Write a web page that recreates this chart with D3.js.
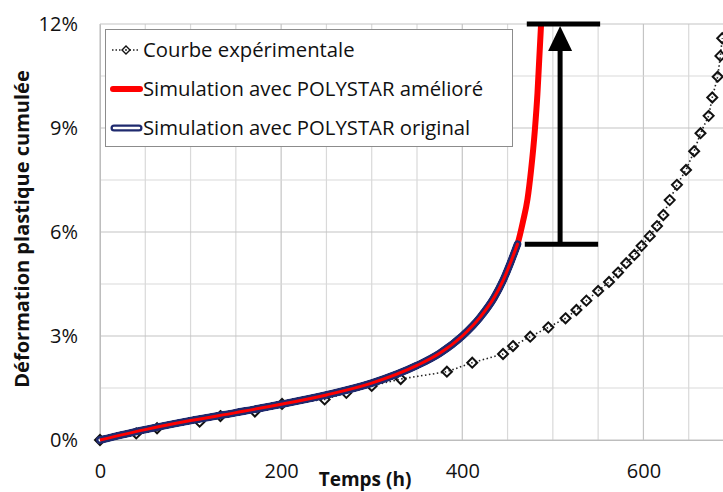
<!DOCTYPE html>
<html>
<head>
<meta charset="utf-8">
<script src="https://cdn.jsdelivr.net/npm/d3@7/dist/d3.min.js"></script>
<style>
  html, body { margin: 0; padding: 0; background: #fff; }
  svg { display: block; }
  text { font-family: "Open Sans", "Liberation Sans", sans-serif; fill: #111; }
</style>
</head>
<body>
<svg id="chart" width="723" height="492"></svg>
<script>
// Experimental creep curve: time (h) and cumulated plastic strain (%)
const expTime = [0, 40, 63, 110, 133, 171, 201, 248, 272, 300, 332, 383, 411, 445, 456, 475, 495, 514, 526, 537, 550, 562, 572, 581, 590, 598, 607, 615, 622, 629, 637, 647, 656, 663, 672, 676, 682, 685, 687];
const expStrain = [0, 0.19, 0.34, 0.53, 0.69, 0.82, 1.04, 1.17, 1.36, 1.56, 1.76, 1.97, 2.23, 2.48, 2.71, 2.98, 3.25, 3.51, 3.75, 4.02, 4.30, 4.56, 4.83, 5.10, 5.34, 5.60, 5.88, 6.17, 6.49, 6.92, 7.36, 7.79, 8.33, 8.85, 9.35, 9.88, 10.48, 11.08, 11.59];

// POLYSTAR simulation, improved model (runs up to 12 %)
const ameliTime = [0, 50, 100, 150, 200, 250, 300, 350, 375, 400, 420, 435, 445, 453, 461, 467, 472, 476, 480, 483, 485, 487];
const ameliStrain = [0, 0.30, 0.56, 0.79, 1.03, 1.30, 1.64, 2.15, 2.50, 3.00, 3.55, 4.10, 4.60, 5.10, 5.65, 6.30, 6.95, 7.80, 8.90, 10.00, 11.00, 12.00];

// POLYSTAR simulation, original model (stops at rupture ~461 h)
const origTime = [0, 50, 100, 150, 200, 250, 300, 350, 375, 400, 420, 435, 445, 453, 461];
const origStrain = [0, 0.30, 0.56, 0.79, 1.03, 1.30, 1.64, 2.15, 2.50, 3.00, 3.55, 4.10, 4.60, 5.10, 5.65];

// Axis ticks
const xTicks = [0, 200, 400, 600];
const xGrid = [0, 50, 100, 150, 200, 250, 300, 350, 400, 450, 500, 550, 600, 650, 700];
const yTicks = [0, 3, 6, 9, 12];
const yGrid = [0, 1.5, 3, 4.5, 6, 7.5, 9, 10.5, 12];

// Legend entries
const legendLabels = ["Courbe expérimentale", "Simulation avec POLYSTAR amélioré", "Simulation avec POLYSTAR original"];

// Strain gap annotation (time h, strain %)
const gapTime = 508;
const gapFrom = 5.65;
const gapTo = 12;
const gapBarTime = [469, 550];

const svg = d3.select("#chart");
const x = d3.scaleLinear().domain([0, 700]).range([100, 734]);
const y = d3.scaleLinear().domain([0, 12]).range([440, 24]);

const toPts = (t, s) => t.map((v, i) => [v, s[i]]);
const line = d3.line().x(d => x(d[0])).y(d => y(d[1])).curve(d3.curveMonotoneX);

// Grid
const grid = svg.append("g");
grid.selectAll("line.v").data(xGrid).join("line")
  .attr("x1", d => x(d)).attr("x2", d => x(d))
  .attr("y1", y(0)).attr("y2", y(12))
  .attr("stroke", d => xTicks.includes(d) ? "#c4c4c4" : "#d9d9d9").attr("stroke-width", 1.2);
grid.selectAll("line.h").data(yGrid).join("line")
  .attr("x1", x(0)).attr("x2", x(700))
  .attr("y1", d => y(d)).attr("y2", d => y(d))
  .attr("stroke", d => yTicks.includes(d) ? "#c4c4c4" : "#d9d9d9").attr("stroke-width", 1.2);

// Axes (labels only, Excel style)
const xAxis = svg.append("g").attr("transform", `translate(0,${y(0)})`)
  .call(d3.axisBottom(x).tickValues(xTicks).tickSize(0).tickPadding(24).tickFormat(d3.format("d")));
xAxis.select(".domain").attr("stroke", "#bdbdbd");
xAxis.selectAll("text").style("font-size", "20px").style("font-family", "'Open Sans', sans-serif").attr("fill", "#111");

const yAxis = svg.append("g").attr("transform", `translate(${x(0)},0)`)
  .call(d3.axisLeft(y).tickValues(yTicks).tickSize(0).tickPadding(22).tickFormat(d => d + "%"));
yAxis.select(".domain").attr("stroke", "#bdbdbd");
yAxis.selectAll("text").style("font-size", "20px").style("font-family", "'Open Sans', sans-serif").attr("fill", "#111");

// Axis titles
svg.append("text").attr("x", 365).attr("y", 486).attr("text-anchor", "middle")
  .style("font-size", "19px").style("font-weight", "bold").text("Temps (h)");
svg.append("text").attr("transform", `translate(29,${229}) rotate(-90)`).attr("text-anchor", "middle")
  .style("font-size", "20px").style("font-weight", "bold").text("Déformation plastique cumulée");

// Experimental curve: dotted line + hollow diamonds
const expPts = toPts(expTime, expStrain);
svg.append("path").datum(expPts)
  .attr("d", d3.line().x(d => x(d[0])).y(d => y(d[1])))
  .attr("fill", "none").attr("stroke", "#222").attr("stroke-width", 1.6)
  .attr("stroke-dasharray", "1.5 2.5");
const diamond = r => `M0,${-r}L${r},0L0,${r}L${-r},0Z`;
svg.selectAll("path.exp").data(expPts).join("path")
  .attr("class", "exp")
  .attr("transform", d => `translate(${x(d[0])},${y(d[1])})`)
  .attr("d", diamond(5))
  .attr("fill", "none").attr("stroke", "#111").attr("stroke-width", 2);

// Improved simulation (red)
svg.append("path").datum(toPts(ameliTime, ameliStrain))
  .attr("d", line).attr("fill", "none")
  .attr("stroke", "#ff0000").attr("stroke-width", 6);

// Original simulation: hollow double navy line on top
const origPts = toPts(origTime, origStrain);
const defs = svg.append("defs");
const mask = defs.append("mask").attr("id", "hollow").attr("maskUnits", "userSpaceOnUse")
  .attr("x", 0).attr("y", 0).attr("width", 723).attr("height", 492);
mask.append("path").datum(origPts).attr("d", line).attr("fill", "none")
  .attr("stroke", "#fff").attr("stroke-width", 8).attr("stroke-linecap", "round");
mask.append("path").datum(origPts).attr("d", line).attr("fill", "none")
  .attr("stroke", "#000").attr("stroke-width", 3).attr("stroke-linecap", "round");
svg.append("path").datum(origPts).attr("d", line).attr("fill", "none")
  .attr("stroke", "#1f2a6e").attr("stroke-width", 8).attr("stroke-linecap", "round")
  .attr("mask", "url(#hollow)");

// Gap annotation: bars and arrow
const ann = svg.append("g").attr("stroke", "#000").attr("stroke-width", 5);
ann.append("line").attr("x1", x(gapBarTime[0])).attr("x2", x(gapBarTime[1]))
  .attr("y1", y(gapFrom)).attr("y2", y(gapFrom));
ann.append("line").attr("x1", x(gapBarTime[0]) + 2).attr("x2", x(gapBarTime[1]) + 2)
  .attr("y1", y(gapTo)).attr("y2", y(gapTo));
ann.append("line").attr("x1", x(gapTime)).attr("x2", x(gapTime))
  .attr("y1", y(gapFrom)).attr("y2", y(gapTo) + 24);
svg.append("path")
  .attr("d", `M${x(gapTime)},${y(gapTo) + 2}L${x(gapTime) + 12},${y(gapTo) + 27}L${x(gapTime) - 12},${y(gapTo) + 27}Z`)
  .attr("fill", "#000");

// Legend
const lg = svg.append("g");
lg.append("rect").attr("x", 105.5).attr("y", 29.5).attr("width", 407).attr("height", 117)
  .attr("fill", "#fff").attr("stroke", "#8c8c8c").attr("stroke-width", 1);
const rowY = [50, 89, 128];
lg.selectAll("text").data(legendLabels).join("text")
  .attr("x", 143).attr("y", (d, i) => rowY[i]).attr("dy", "0.36em")
  .style("font-size", "20.3px").text(d => d);
// symbol 1
lg.append("line").attr("x1", 112).attr("x2", 140).attr("y1", rowY[0]).attr("y2", rowY[0])
  .attr("stroke", "#222").attr("stroke-width", 1.4).attr("stroke-dasharray", "1.5 2");
lg.append("path").attr("transform", `translate(126,${rowY[0]})`).attr("d", diamond(4))
  .attr("fill", "#fff").attr("stroke", "#111").attr("stroke-width", 1.4);
lg.append("circle").attr("cx", 126).attr("cy", rowY[0]).attr("r", 0.9).attr("fill", "#111");
// symbol 2
lg.append("line").attr("x1", 113).attr("x2", 140).attr("y1", rowY[1]).attr("y2", rowY[1])
  .attr("stroke", "#ff0000").attr("stroke-width", 6).attr("stroke-linecap", "round");
// symbol 3
lg.append("line").attr("x1", 114).attr("x2", 139).attr("y1", rowY[2]).attr("y2", rowY[2])
  .attr("stroke", "#1f2a6e").attr("stroke-width", 7).attr("stroke-linecap", "round");
lg.append("line").attr("x1", 114).attr("x2", 139).attr("y1", rowY[2]).attr("y2", rowY[2])
  .attr("stroke", "#fff").attr("stroke-width", 2.5).attr("stroke-linecap", "round");
</script>
</body>
</html>
